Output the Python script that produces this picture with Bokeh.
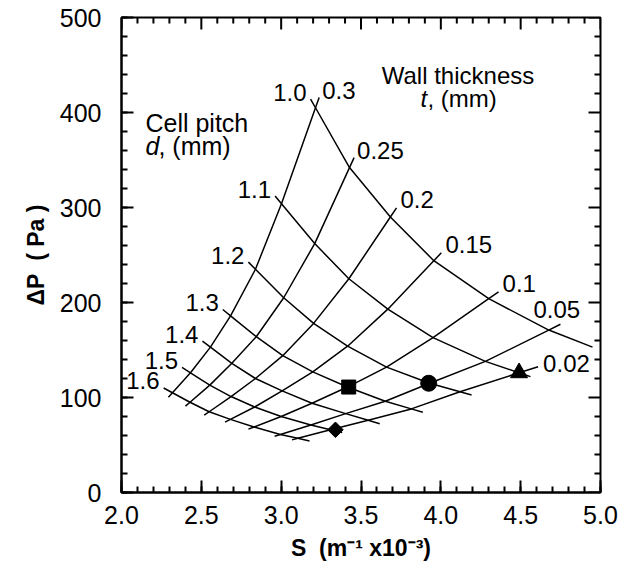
import numpy as np
from bokeh.plotting import figure
from bokeh.models import Range1d, FixedTicker, Label
from bokeh.embed import file_html
from bokeh.resources import INLINE

# ---------------- data ----------------
pitch_labels = ["1.0", "1.1", "1.2", "1.3", "1.4", "1.5", "1.6"]          # cell pitch d (mm)
wall_labels = ["0.3", "0.25", "0.2", "0.15", "0.1", "0.05", "0.02"]      # wall thickness t (mm)

# S (m^-1 x10^-3) at each wall thickness, one list per cell pitch
S_d10 = [3.215, 3.428, 3.684, 3.956, 4.300, 4.676, 4.950]
S_d11 = [3.002, 3.210, 3.424, 3.668, 3.951, 4.279, 4.490]
S_d12 = [2.839, 3.016, 3.203, 3.416, 3.660, 3.930, 4.120]
S_d13 = [2.683, 2.844, 3.010, 3.198, 3.415, 3.652, 3.815]
S_d14 = [2.557, 2.691, 2.839, 3.006, 3.193, 3.404, 3.545]
S_d15 = [2.432, 2.553, 2.686, 2.834, 3.000, 3.186, 3.309]
S_d16 = [2.319, 2.429, 2.549, 2.682, 2.830, 2.995, 3.104]

# Pressure drop dP (Pa) at each wall thickness, one list per cell pitch
P_d10 = [405, 342, 290, 244, 204, 171, 153]
P_d11 = [304, 262, 225, 193, 163, 138, 126]
P_d12 = [235, 205, 178, 154, 132, 115, 106]
P_d13 = [186, 164, 144, 127, 111, 96, 88]
P_d14 = [153, 136, 120, 107, 94, 83, 76]
P_d15 = [126, 113, 101, 90, 80, 71, 66]
P_d16 = [105, 95, 85, 77, 69, 61, 57]

# highlighted samples
marker_S = [3.423, 3.924, 4.490, 3.340]
marker_P = [111, 115, 126, 66]

x_ticks = [2.0, 2.5, 3.0, 3.5, 4.0, 4.5, 5.0]
x_tick_labels = ["2.0", "2.5", "3.0", "3.5", "4.0", "4.5", "5.0"]
x_minor = [round(2.0 + 0.1 * k, 1) for k in range(31)]
y_ticks = [0, 100, 200, 300, 400, 500]
y_tick_labels = ["0", "100", "200", "300", "400", "500"]
y_minor = list(range(0, 501, 20))

# ---------------- layout / style ----------------
FONT = "Liberation Sans"
W, H = 630, 584
ML, MR, MT, MB = 121, 30, 17, 92
X0, X1, Y0, Y1 = 2.0, 5.0, 0.0, 500.0
sx = (W - ML - MR) / (X1 - X0)
sy = (H - MT - MB) / (Y1 - Y0)
LW = 1.5
TXT = "24px"
TICK_TXT = "25px"
MAJ, MIN = 12, 6
NB = "\u00a0"

S_rows = [S_d10, S_d11, S_d12, S_d13, S_d14, S_d15, S_d16]
P_rows = [P_d10, P_d11, P_d12, P_d13, P_d14, P_d15, P_d16]


def ext(a, b, L):
    """point L screen px beyond a, continuing the direction b -> a"""
    dx = (a[0] - b[0]) * sx
    dy = (a[1] - b[1]) * sy
    n = np.hypot(dx, dy)
    return (a[0] + dx / n * L / sx, a[1] + dy / n * L / sy)


def shift(pt, dx, dy):
    """move a data point by dx px right and dy px up"""
    return (pt[0] + dx / sx, pt[1] + dy / sy)


p = figure(width=W, height=H, x_range=Range1d(X0, X1), y_range=Range1d(Y0, Y1),
           output_backend="svg", toolbar_location=None,
           min_border_left=ML, min_border_right=MR, min_border_top=MT, min_border_bottom=MB)
p.grid.visible = False
p.background_fill_color = "white"
p.border_fill_color = "white"
p.outline_line_color = "black"
p.outline_line_width = 2

xax = p.below[0]
yax = p.left[0]
xax.ticker = FixedTicker(ticks=x_ticks, minor_ticks=x_minor)
yax.ticker = FixedTicker(ticks=y_ticks, minor_ticks=y_minor)

for ax in [xax, yax]:
    ax.major_tick_in = MAJ
    ax.major_tick_out = 0
    ax.minor_tick_in = MIN
    ax.minor_tick_out = 0
    ax.major_tick_line_width = 2
    ax.minor_tick_line_width = 2
    ax.major_tick_line_color = "black"
    ax.minor_tick_line_color = "black"
    ax.axis_line_width = 2
    ax.axis_line_color = "black"
    ax.major_label_text_font = FONT
    ax.major_label_text_font_size = TICK_TXT
    ax.major_label_text_color = "black"
    ax.axis_label_text_font = FONT
    ax.axis_label_text_font_size = "23px"
    ax.axis_label_text_font_style = "bold"
    ax.axis_label_text_color = "black"
    ax.axis_label_standoff = 8

xax.major_label_overrides = {t: s for t, s in zip(x_ticks, x_tick_labels)}
yax.major_label_overrides = {t: s for t, s in zip(y_ticks, y_tick_labels)}
xax.major_label_standoff = 13
yax.major_label_standoff = 20
xax.axis_label = "S" + NB + NB + "(m\u207b\u00b9 x10\u207b\u00b3)"
yax.axis_label = "\u0394P" + NB + NB + "(" + NB + "Pa" + NB + ")"

# mirrored inward ticks on the top and right edges of the frame
tx = [t for t in x_minor if t not in x_ticks]
ty = [t for t in y_minor if t not in y_ticks]
p.segment(x0=x_ticks, y0=[Y1] * len(x_ticks), x1=x_ticks, y1=[Y1 - MAJ / sy] * len(x_ticks),
          line_color="black", line_width=2)
p.segment(x0=tx, y0=[Y1] * len(tx), x1=tx, y1=[Y1 - MIN / sy] * len(tx),
          line_color="black", line_width=2)
p.segment(x0=[X1] * len(y_ticks), y0=y_ticks, x1=[X1 - MAJ / sx] * len(y_ticks), y1=y_ticks,
          line_color="black", line_width=2)
p.segment(x0=[X1] * len(ty), y0=ty, x1=[X1 - MIN / sx] * len(ty), y1=ty,
          line_color="black", line_width=2)

# ---------------- constant cell-pitch curves ----------------
d_end_len = [0, 12, 12, 12, 12, 12, 12]
for i, (S, P) in enumerate(zip(S_rows, P_rows)):
    pts = list(zip(S, P))
    a = ext(pts[0], pts[1], 10)
    xs = [a[0]] + list(S)
    ys = [a[1]] + list(P)
    if d_end_len[i] > 0:
        b = ext(pts[-1], pts[-2], d_end_len[i])
        xs.append(b[0])
        ys.append(b[1])
    p.line(xs, ys, line_color="black", line_width=LW)
    lab = shift(a, -4, 7)
    p.add_layout(Label(x=lab[0], y=lab[1], text=pitch_labels[i], text_align="right",
                       text_baseline="middle", text_font=FONT, text_font_size=TXT,
                       text_color="black"))

# ---------------- constant wall-thickness curves ----------------
t_lead_len = [11, 11, 11, 11, 12, 13, 20]
t_lab_off = [(3, 7), (3, 7), (4, 8), (4, 8), (4, 8), (-27, 15), (5, 3)]
for j in range(7):
    rows = list(range(6, -1, -1)) if j < 6 else list(range(6, 0, -1))
    pts = [(S_rows[i][j], P_rows[i][j]) for i in rows]
    a = ext(pts[0], pts[1], 6)
    b = ext(pts[-1], pts[-2], t_lead_len[j])
    xs = [a[0]] + [q[0] for q in pts] + [b[0]]
    ys = [a[1]] + [q[1] for q in pts] + [b[1]]
    p.line(xs, ys, line_color="black", line_width=LW)
    lab = shift(b, *t_lab_off[j])
    p.add_layout(Label(x=lab[0], y=lab[1], text=wall_labels[j], text_align="left",
                       text_baseline="middle", text_font=FONT, text_font_size=TXT,
                       text_color="black"))

# ---------------- sample markers ----------------
p.scatter([marker_S[0]], [marker_P[0]], marker="square", size=14, color="black")
p.scatter([marker_S[1]], [marker_P[1]], marker="circle", size=16, color="black")
p.scatter([marker_S[2]], [marker_P[2]], marker="triangle", size=17, color="black")
p.scatter([marker_S[3]], [marker_P[3]], marker="square", size=11, angle=np.pi / 4, color="black")


# ---------------- legend-like titles ----------------
def txt(x, y, s, style="normal", size=TXT):
    p.add_layout(Label(x=x, y=y, text=s, text_align="left", text_baseline="middle",
                       text_font=FONT, text_font_size=size, text_font_style=style,
                       text_color="black"))


txt(2.15, 389, "Cell pitch", size="25px")
txt(2.15, 365, "d", "italic", size="25px")
txt(2.15 + 13 / sx, 365, ", (mm)", size="25px")
txt(3.63, 439, "Wall thickness")
txt(3.872, 415, "t", "italic")
txt(3.872 + 7 / sx, 415, ", (mm)")

open("out.html", "w").write(file_html(p, INLINE))
